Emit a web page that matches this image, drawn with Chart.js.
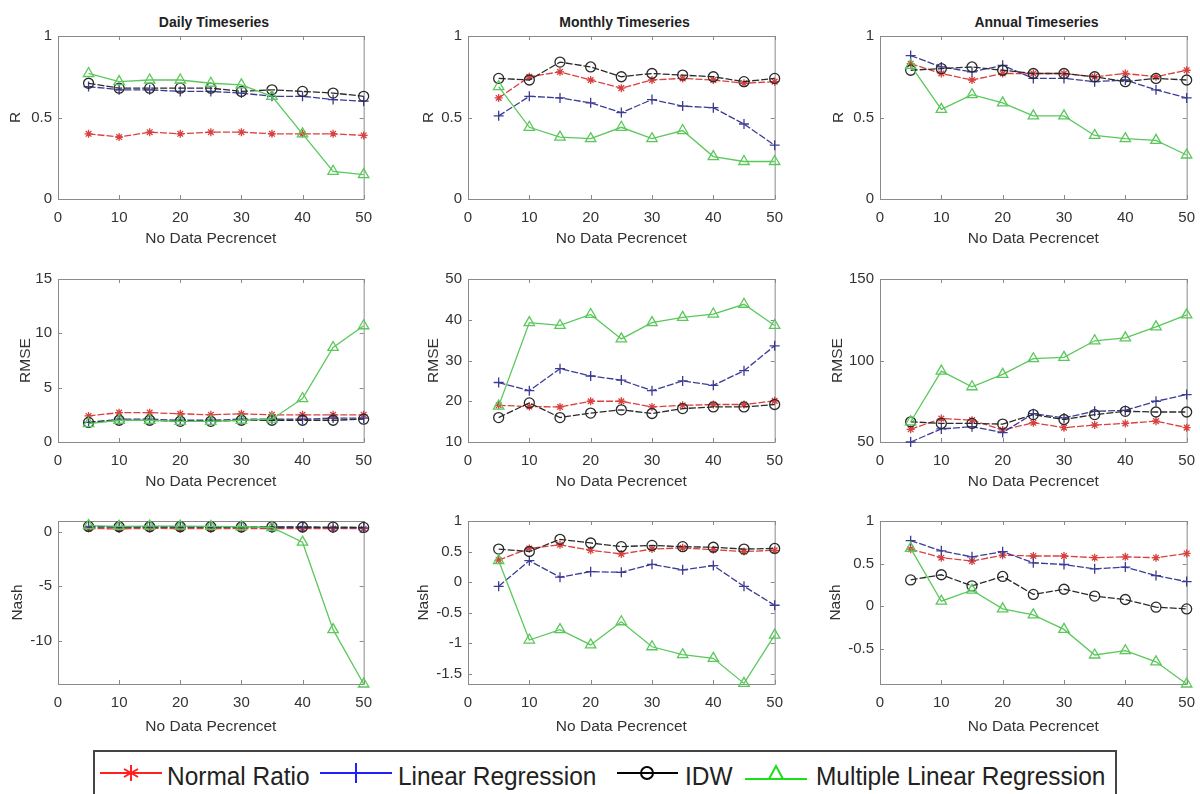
<!DOCTYPE html>
<html>
<head>
<meta charset="utf-8">
<script src="https://cdn.jsdelivr.net/npm/chart.js@4.4.1/dist/chart.umd.min.js"></script>
<style>
  body { margin: 0; width: 1200px; height: 794px; background: #fff; position: relative; overflow: hidden; font-family: "Liberation Sans", Arial, sans-serif; }
  canvas { position: absolute; }
  .title { position: absolute; top: 14px; height: 16px; line-height: 16px; font-size: 14px; font-weight: bold; color: #222; text-align: center; }
  .legbox { position: absolute; left: 93px; top: 750px; width: 1024px; height: 60px; border: 2px solid #444; box-sizing: border-box; }
  .legtxt { position: absolute; top: 761px; height: 30px; line-height: 30px; font-size: 26px; color: #222; white-space: nowrap; transform: scaleX(0.94); transform-origin: left center; }
</style>
</head>
<body>
<div class="title" style="left:58px;width:312px">Daily Timeseries</div>
<div class="title" style="left:468px;width:313px">Monthly Timeseries</div>
<div class="title" style="left:880px;width:313px">Annual Timeseries</div>

<div class="legbox"></div>
<svg style="position:absolute;left:0;top:0" width="1200" height="794">
  <g fill="none" stroke-width="2">
    <g stroke="#ff2020">
      <line x1="100" y1="773" x2="162" y2="773"/>
      <line x1="131" y1="765" x2="131" y2="781"/>
      <line x1="124" y1="769" x2="138" y2="777"/>
      <line x1="124" y1="777" x2="138" y2="769"/>
    </g>
    <g stroke="#2020ff">
      <line x1="320" y1="773" x2="392" y2="773"/>
      <line x1="356" y1="763" x2="356" y2="783"/>
    </g>
    <g stroke="#000">
      <line x1="617" y1="773" x2="678" y2="773"/>
      <circle cx="647" cy="773" r="6"/>
    </g>
    <g stroke="#18e018">
      <line x1="745" y1="779" x2="807" y2="779"/>
      <polygon points="776,766 783,779 769,779"/>
    </g>
  </g>
</svg>
<span class="legtxt" style="left:167px">Normal Ratio</span>
<span class="legtxt" style="left:398px">Linear Regression</span>
<span class="legtxt" style="left:685px">IDW</span>
<span class="legtxt" style="left:816px">Multiple Linear Regression</span>

<script>
// x values: percent of missing data
const noDataPct = [5, 10, 15, 20, 25, 30, 35, 40, 45, 50];

// R
const dailyR_normal = [0.40, 0.38, 0.41, 0.40, 0.41, 0.41, 0.40, 0.40, 0.40, 0.39];
const dailyR_linear = [0.69, 0.67, 0.67, 0.66, 0.66, 0.65, 0.63, 0.63, 0.61, 0.60];
const dailyR_idw = [0.71, 0.68, 0.68, 0.68, 0.68, 0.66, 0.67, 0.66, 0.65, 0.63];
const dailyR_mlr = [0.77, 0.72, 0.73, 0.73, 0.71, 0.70, 0.63, 0.40, 0.17, 0.15];

const monthlyR_normal = [0.62, 0.75, 0.78, 0.73, 0.68, 0.73, 0.74, 0.73, 0.71, 0.72];
const monthlyR_linear = [0.51, 0.63, 0.62, 0.59, 0.53, 0.61, 0.57, 0.56, 0.46, 0.33];
const monthlyR_idw = [0.74, 0.73, 0.84, 0.81, 0.75, 0.77, 0.76, 0.75, 0.72, 0.74];
const monthlyR_mlr = [0.69, 0.44, 0.38, 0.37, 0.44, 0.37, 0.42, 0.26, 0.23, 0.23];

const annualR_normal = [0.83, 0.77, 0.73, 0.77, 0.77, 0.77, 0.75, 0.77, 0.75, 0.79];
const annualR_linear = [0.88, 0.81, 0.78, 0.82, 0.74, 0.74, 0.72, 0.73, 0.67, 0.62];
const annualR_idw = [0.79, 0.80, 0.81, 0.79, 0.77, 0.77, 0.75, 0.72, 0.74, 0.73];
const annualR_mlr = [0.82, 0.55, 0.64, 0.59, 0.51, 0.51, 0.39, 0.37, 0.36, 0.27];

// RMSE
const dailyRmse_normal = [2.4, 2.7, 2.7, 2.6, 2.5, 2.6, 2.5, 2.5, 2.5, 2.5];
const dailyRmse_linear = [1.8, 2.1, 2.1, 2.0, 2.0, 2.1, 2.1, 2.1, 2.2, 2.2];
const dailyRmse_idw = [1.8, 2.0, 2.0, 1.9, 1.9, 2.0, 2.0, 2.0, 2.0, 2.1];
const dailyRmse_mlr = [1.7, 2.0, 2.0, 1.9, 1.9, 2.0, 2.1, 4.0, 8.7, 10.7];

const monthlyRmse_normal = [19.0, 18.7, 18.6, 20.0, 20.0, 18.6, 19.0, 19.2, 19.2, 20.1];
const monthlyRmse_linear = [24.6, 22.6, 28.0, 26.2, 25.2, 22.6, 25.0, 23.9, 27.5, 33.6];
const monthlyRmse_idw = [16.0, 19.6, 16.0, 17.1, 17.9, 17.0, 18.2, 18.6, 18.6, 19.2];
const monthlyRmse_mlr = [18.8, 39.3, 38.6, 41.3, 35.3, 39.3, 40.6, 41.4, 43.8, 38.6];

const annualRmse_normal = [57.8, 64.4, 63.4, 57.4, 61.8, 58.8, 60.4, 61.4, 62.8, 58.8];
const annualRmse_linear = [50.0, 58.0, 59.4, 55.8, 67.4, 64.8, 68.8, 69.4, 75.0, 79.1];
const annualRmse_idw = [62.4, 61.4, 61.4, 61.0, 66.8, 63.8, 66.8, 68.8, 68.4, 68.4];
const annualRmse_mlr = [62.4, 93.5, 83.9, 91.5, 101.1, 101.9, 112.1, 113.9, 120.6, 128.0];

// Nash
const dailyNash_normal = [0.30, 0.28, 0.32, 0.30, 0.31, 0.31, 0.30, 0.30, 0.30, 0.29];
const dailyNash_linear = [0.45, 0.43, 0.44, 0.43, 0.43, 0.42, 0.40, 0.40, 0.38, 0.36];
const dailyNash_idw = [0.50, 0.47, 0.47, 0.47, 0.47, 0.45, 0.46, 0.45, 0.44, 0.41];
const dailyNash_mlr = [0.58, 0.51, 0.53, 0.53, 0.50, 0.47, 0.40, -0.95, -9.0, -14.0];

const monthlyNash_normal = [0.36, 0.55, 0.61, 0.52, 0.46, 0.54, 0.56, 0.53, 0.50, 0.52];
const monthlyNash_linear = [-0.07, 0.35, 0.08, 0.17, 0.16, 0.29, 0.20, 0.27, -0.07, -0.38];
const monthlyNash_idw = [0.54, 0.50, 0.70, 0.64, 0.58, 0.60, 0.58, 0.57, 0.54, 0.55];
const monthlyNash_mlr = [0.35, -0.95, -0.78, -1.03, -0.65, -1.06, -1.19, -1.25, -1.66, -0.87];

const annualNash_normal = [0.67, 0.57, 0.53, 0.60, 0.59, 0.59, 0.57, 0.58, 0.57, 0.62];
const annualNash_linear = [0.77, 0.65, 0.58, 0.64, 0.51, 0.49, 0.44, 0.46, 0.36, 0.29];
const annualNash_idw = [0.31, 0.37, 0.24, 0.35, 0.14, 0.20, 0.12, 0.08, -0.01, -0.03];
const annualNash_mlr = [0.68, 0.06, 0.19, -0.03, -0.10, -0.27, -0.57, -0.52, -0.65, -0.91];

// tick labels
const xTicks = [0, 10, 20, 30, 40, 50];
const rTicks = [0, 0.5, 1];
const dailyRmseTicks = [0, 5, 10, 15];
const monthlyRmseTicks = [10, 20, 30, 40, 50];
const annualRmseTicks = [50, 100, 150];
const dailyNashTicks = [-10, -5, 0];
const monthlyNashTicks = [-1.5, -1, -0.5, 0, 0.5, 1];
const annualNashTicks = [-0.5, 0, 0.5, 1];

const methods = ["Normal Ratio", "Linear Regression", "IDW", "Multiple Linear Regression"];
const lineColors = ["#d9413f", "#3c3c96", "#2a2a2a", "#5ac85a"];
const markers = ["star", "cross", "circle", "triangle"];
const markerSize = [4, 5, 5, 6];
const dashes = [[7, 2], [7, 2], [7, 2], []];

const tickFont = { family: "'Liberation Sans', Arial, sans-serif", size: 15 };
const titleFont = { family: "'Liberation Sans', Arial, sans-serif", size: 15.5 };
const textColor = "#333";

// draws the matlab-like box and inward tick marks
const boxPlugin = {
    id: "box",
    beforeDatasetsDraw(chart) {
        const { ctx, chartArea: a, scales } = chart;
        ctx.save();
        ctx.strokeStyle = "#8a8a8a";
        ctx.lineWidth = 1;
        ctx.strokeRect(a.left + 0.5, a.top + 0.5, a.right - a.left, a.bottom - a.top);
        ctx.beginPath();
        scales.x.ticks.forEach(t => {
            const px = Math.round(scales.x.getPixelForValue(t.value)) + 0.5;
            ctx.moveTo(px, a.bottom); ctx.lineTo(px, a.bottom - 4);
            ctx.moveTo(px, a.top); ctx.lineTo(px, a.top + 4);
        });
        scales.y.ticks.forEach(t => {
            const py = Math.round(scales.y.getPixelForValue(t.value)) + 0.5;
            ctx.moveTo(a.left, py); ctx.lineTo(a.left + 4, py);
            ctx.moveTo(a.right, py); ctx.lineTo(a.right - 4, py);
        });
        ctx.stroke();
        ctx.restore();
    }
};

const panels = [
    { series: [dailyR_normal, dailyR_linear, dailyR_idw, dailyR_mlr], yTitle: "R", yMin: 0, yMax: 1, yTicks: rTicks,
      left: 58, top: 33, right: 370, bottom: 199, yGap: 43, xGap: 40 },
    { series: [monthlyR_normal, monthlyR_linear, monthlyR_idw, monthlyR_mlr], yTitle: "R", yMin: 0, yMax: 1, yTicks: rTicks,
      left: 468, top: 33, right: 781, bottom: 199, yGap: 40, xGap: 40 },
    { series: [annualR_normal, annualR_linear, annualR_idw, annualR_mlr], yTitle: "R", yMin: 0, yMax: 1, yTicks: rTicks,
      left: 880, top: 33, right: 1193, bottom: 199, yGap: 42, xGap: 40 },
    { series: [dailyRmse_normal, dailyRmse_linear, dailyRmse_idw, dailyRmse_mlr], yTitle: "RMSE", yMin: 0, yMax: 15, yTicks: dailyRmseTicks,
      left: 58, top: 276, right: 370, bottom: 442, yGap: 33, xGap: 40 },
    { series: [monthlyRmse_normal, monthlyRmse_linear, monthlyRmse_idw, monthlyRmse_mlr], yTitle: "RMSE", yMin: 10, yMax: 50, yTicks: monthlyRmseTicks,
      left: 468, top: 276, right: 781, bottom: 442, yGap: 35, xGap: 40 },
    { series: [annualRmse_normal, annualRmse_linear, annualRmse_idw, annualRmse_mlr], yTitle: "RMSE", yMin: 50, yMax: 150, yTicks: annualRmseTicks,
      left: 880, top: 276, right: 1193, bottom: 442, yGap: 43, xGap: 40 },
    { series: [dailyNash_normal, dailyNash_linear, dailyNash_idw, dailyNash_mlr], yTitle: "Nash", yMin: -14, yMax: 1, yTicks: dailyNashTicks,
      left: 58, top: 518, right: 370, bottom: 684, yGap: 41, xGap: 43 },
    { series: [monthlyNash_normal, monthlyNash_linear, monthlyNash_idw, monthlyNash_mlr], yTitle: "Nash", yMin: -1.67, yMax: 1, yTicks: monthlyNashTicks,
      left: 468, top: 518, right: 781, bottom: 684, yGap: 45, xGap: 43 },
    { series: [annualNash_normal, annualNash_linear, annualNash_idw, annualNash_mlr], yTitle: "Nash", yMin: -0.91, yMax: 1, yTicks: annualNashTicks,
      left: 880, top: 518, right: 1193, bottom: 684, yGap: 45, xGap: 43 }
];

panels.forEach(p => {
    const yw = Math.round(p.yGap + 13);
    const xh = Math.round(p.xGap + 13);
    const padT = 12, padR = 12;
    const canvas = document.createElement("canvas");
    canvas.width = p.right - p.left + yw + padR;
    canvas.height = p.bottom - p.top + padT + xh;
    canvas.style.left = (p.left - yw) + "px";
    canvas.style.top = (p.top - padT) + "px";
    document.body.appendChild(canvas);

    const datasets = p.series.map((vals, i) => ({
        label: methods[i],
        data: noDataPct.map((x, k) => ({ x: x, y: vals[k] })),
        borderColor: lineColors[i],
        borderWidth: 1.3,
        borderDash: dashes[i],
        pointStyle: markers[i],
        pointRadius: markerSize[i],
        pointBorderColor: lineColors[i],
        pointBackgroundColor: "rgba(0,0,0,0)",
        pointBorderWidth: 1.3,
        tension: 0,
        clip: false,
        order: 4 - i
    }));

    new Chart(canvas, {
        type: "line",
        data: { datasets: datasets },
        plugins: [boxPlugin],
        options: {
            responsive: false,
            animation: false,
            layout: { padding: { top: padT, right: padR, left: 0, bottom: 0 } },
            plugins: { legend: { display: false }, tooltip: { enabled: false }, title: { display: false } },
            scales: {
                x: {
                    type: "linear",
                    min: 0,
                    max: 50,
                    afterBuildTicks: s => { s.ticks = xTicks.map(v => ({ value: v })); },
                    afterFit: s => { s.height = xh; },
                    grid: { display: false, drawTicks: false },
                    border: { display: false },
                    ticks: { font: tickFont, color: textColor, padding: 10, maxRotation: 0, callback: v => String(v) },
                    title: { display: true, text: "No Data Pecrencet", font: titleFont, color: textColor }
                },
                y: {
                    type: "linear",
                    min: p.yMin,
                    max: p.yMax,
                    afterBuildTicks: s => { s.ticks = p.yTicks.map(v => ({ value: v })); },
                    afterFit: s => { s.width = yw; },
                    grid: { display: false, drawTicks: false },
                    border: { display: false },
                    ticks: { font: tickFont, color: textColor, padding: 6, callback: v => String(v) },
                    title: { display: true, text: p.yTitle, font: titleFont, color: textColor }
                }
            }
        }
    });
});
</script>
</body>
</html>
